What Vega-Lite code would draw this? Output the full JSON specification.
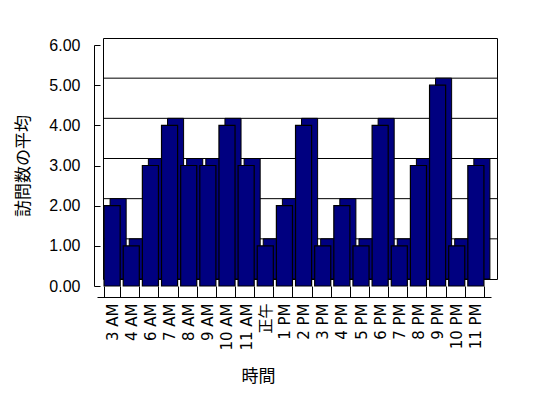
{
  "$schema": "https://vega.github.io/schema/vega-lite/v6.json",
  "autosize": "none",
  "width": 394,
  "height": 241,
  "padding": {"left": 103, "top": 38, "right": 51, "bottom": 119},
  "background": "white",
  "config": {
    "view": {"stroke": "black", "strokeWidth": 1},
    "font": "Noto Sans CJK JP",
    "axis": {"labelColor": "black", "titleColor": "black", "titleFont": "Noto Sans CJK JP", "titleFontWeight": "normal", "titleFontSize": 17, "labelOverlap": false, "labelFlush": false}
  },
  "datasets": {
    "visits": [
      {"t": "3 AM", "v": 2}, {"t": "4 AM", "v": 1}, {"t": "6 AM", "v": 3}, {"t": "7 AM", "v": 4},
      {"t": "8 AM", "v": 3}, {"t": "9 AM", "v": 3}, {"t": "10 AM", "v": 4}, {"t": "11 AM", "v": 3},
      {"t": "正午", "v": 1}, {"t": "1 PM", "v": 2}, {"t": "2 PM", "v": 4}, {"t": "3 PM", "v": 1},
      {"t": "4 PM", "v": 2}, {"t": "5 PM", "v": 1}, {"t": "6 PM", "v": 4}, {"t": "7 PM", "v": 1},
      {"t": "8 PM", "v": 3}, {"t": "9 PM", "v": 5}, {"t": "10 PM", "v": 1}, {"t": "11 PM", "v": 3}
    ],
    "grid": [{"g": 1}, {"g": 2}, {"g": 3}, {"g": 4}, {"g": 5}]
  },
  "layer": [
    {"data": {"name": "grid"},
     "mark": {"type": "rule", "color": "black", "strokeWidth": 1},
     "encoding": {"y": {"field": "g", "type": "quantitative", "scale": {"domain": [0, 6], "nice": false},
       "axis": {"title": "訪問数の平均", "translate": 7.5, "offset": 16, "grid": false, "labelFont": "Liberation Sans", "labelFontSize": 16, "format": ".2f", "values": [0,1,2,3,4,5,6], "domainColor": "black", "tickColor": "black", "tickSize": -6, "labelPadding": 20, "titlePadding": 16}}}},
    {"data": {"name": "visits"},
     "mark": {"type": "bar", "color": "#000080", "stroke": "black", "strokeWidth": 1},
     "encoding": {
       "x": {"field": "t", "type": "nominal", "sort": null,
         "scale": {"paddingInner": 0.16, "paddingOuter": 0.37, "align": 0.5},
         "axis": {"title": "時間", "translate": -5.5, "offset": 24, "labelFont": "DejaVu Sans, Noto Sans CJK JP", "labelFontSize": 15, "labelAngle": 270, "labelAlign": "right", "labelBaseline": "middle", "labelPadding": 17, "tickColor": "black", "domainColor": "black", "ticks": true, "tickSize": -11, "tickBand": "extent", "titlePadding": 18, "titleX": 161}},
       "y": {"field": "v", "type": "quantitative"}
     }},
    {"data": {"name": "visits"},
     "mark": {"type": "bar", "color": "#000080", "stroke": "black", "strokeWidth": 1.2, "xOffset": -6, "yOffset": 7, "y2Offset": 7},
     "encoding": {
       "x": {"field": "t", "type": "nominal", "sort": null},
       "y": {"field": "v", "type": "quantitative"}
     }}
  ]
}
